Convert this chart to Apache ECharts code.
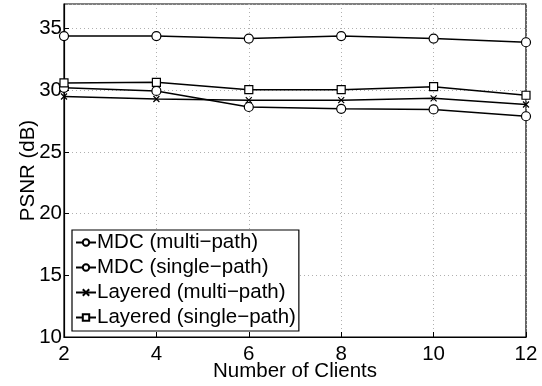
<!DOCTYPE html>
<html>
<head>
<meta charset="utf-8">
<script src="https://cdn.jsdelivr.net/npm/echarts@6/dist/echarts.min.js"></script>
<style>
html,body{margin:0;padding:0;background:#fff;}
#chart{width:542px;height:386px;}
</style>
</head>
<body>
<div id="chart"></div>
<script>
const clients = [2, 4, 6, 8, 10, 12];
const mdcMulti = [34.4, 34.4, 34.2, 34.4, 34.2, 33.9];
const mdcSingle = [30.2, 29.95, 28.65, 28.5, 28.45, 27.9];
const layeredMulti = [29.5, 29.3, 29.2, 29.2, 29.35, 28.85];
const layeredSingle = [30.6, 30.65, 30.05, 30.05, 30.3, 29.6];
const seriesNames = ['MDC (multi\u2212path)', 'MDC (single\u2212path)', 'Layered (multi\u2212path)', 'Layered (single\u2212path)'];

const FONT = 'Liberation Sans, Arial, sans-serif';
const crossPath = 'path://M0,0L10,10M10,0L0,10';

function mk(name, vals, symbol, size) {
  return {
    name: name,
    type: 'line',
    data: clients.map((c, i) => [c, vals[i]]),
    symbol: symbol,
    symbolSize: size,
    showAllSymbol: true,
    lineStyle: { color: '#000', width: 1.5 },
    itemStyle: { color: '#fff', borderColor: '#000', borderWidth: 1.2 },
    emphasis: { disabled: true },
    animation: false,
    z: 3
  };
}

const chart = echarts.init(document.getElementById('chart'), null, { renderer: 'canvas' });
chart.setOption({
  backgroundColor: '#fff',
  animation: false,
  grid: { left: 64, top: 4, right: 16, bottom: 49, show: true, borderColor: '#000', borderWidth: 1.2,
    backgroundColor: 'transparent', containLabel: false, outerBoundsMode: 'none' },
  xAxis: {
    type: 'value', min: 2, max: 12, interval: 2,
    name: 'Number of Clients', nameLocation: 'middle', nameGap: 24, nameMoveOverlap: false,
    nameTextStyle: { color: '#000', fontSize: 20.5, fontFamily: FONT },
    axisLine: { lineStyle: { color: '#000', width: 1.2 } },
    axisTick: { inside: true, length: 5, lineStyle: { color: '#000' } },
    axisLabel: { color: '#000', fontSize: 20.5, fontFamily: FONT, margin: 7 },
    splitLine: { show: true, lineStyle: { color: '#b0b0b0', type: [1, 3], width: 1 } }
  },
  yAxis: {
    type: 'value', min: 10, max: 37, interval: 5,
    name: 'PSNR (dB)', nameLocation: 'middle', nameGap: 25, nameMoveOverlap: false,
    nameTextStyle: { color: '#000', fontSize: 20.5, fontFamily: FONT },
    axisLine: { lineStyle: { color: '#000', width: 1.2 } },
    axisTick: { inside: true, length: 5, lineStyle: { color: '#000' } },
    axisLabel: { color: '#000', fontSize: 20.5, fontFamily: FONT, margin: 2, showMaxLabel: false,
      formatter: v => (v % 5 === 0 ? String(v) : '') },
    splitLine: { show: true, lineStyle: { color: '#b0b0b0', type: [1, 3], width: 1 } }
  },
  legend: {
    orient: 'vertical', left: 72, top: 230,
    padding: [2, 3, 3, 3],
    itemGap: 4, itemWidth: 20, itemHeight: 8,
    backgroundColor: '#fff', borderColor: '#000', borderWidth: 1.2, borderRadius: 0,
    textStyle: { color: '#000', fontSize: 20.5, fontFamily: FONT, padding: [0, 0, 0, -4] },
    data: seriesNames,
    z: 10
  },
  series: [
    mk(seriesNames[0], mdcMulti, 'circle', 9),
    mk(seriesNames[1], mdcSingle, 'circle', 9),
    mk(seriesNames[2], layeredMulti, crossPath, 6),
    mk(seriesNames[3], layeredSingle, 'rect', 8)
  ]
});
</script>
</body>
</html>
